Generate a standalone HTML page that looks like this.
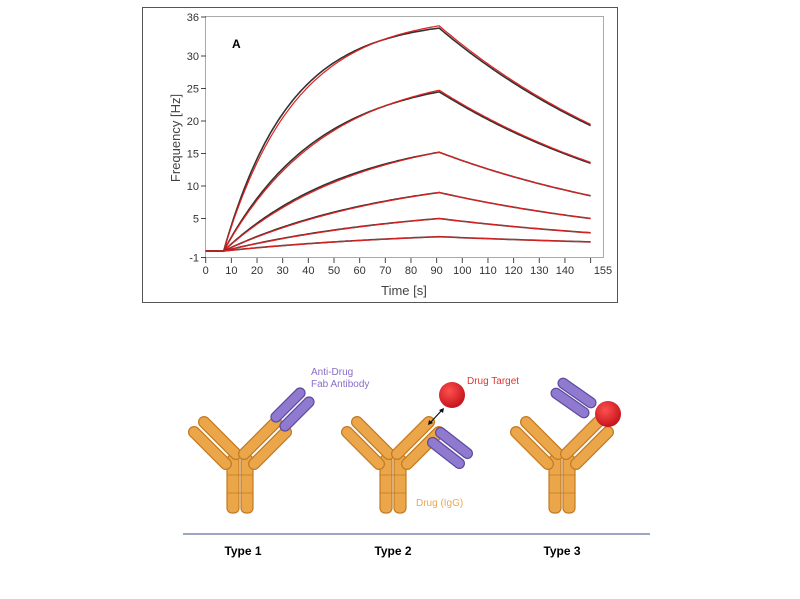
<!DOCTYPE html>
<html><head><meta charset="utf-8"><style>
html,body{margin:0;padding:0;background:#fff;width:800px;height:599px;overflow:hidden}
</style></head><body>
<svg width="800" height="599" viewBox="0 0 800 599" xmlns="http://www.w3.org/2000/svg" font-family="Liberation Sans, sans-serif">
<defs>
<radialGradient id="rg" cx="0.4" cy="0.35" r="0.7"><stop offset="0" stop-color="#ff5050"/><stop offset="1" stop-color="#c01018"/></radialGradient>
<g id="arm"><rect x="-28" y="-5.5" width="56" height="11" rx="5.5" fill="#eba64a" stroke="#c27a22" stroke-width="1.2"/></g>
<g id="fab"><rect x="-22" y="-5" width="44" height="10" rx="5" fill="#8f7ad0" stroke="#5d4aa0" stroke-width="1.2"/></g>
<g id="ab">
 <rect x="-13" y="0" width="12" height="58" rx="5" fill="#eba64a" stroke="#c27a22" stroke-width="1.2"/>
 <rect x="1" y="0" width="12" height="58" rx="5" fill="#eba64a" stroke="#c27a22" stroke-width="1.2"/>
 <line x1="-13" y1="20" x2="13" y2="20" stroke="#c27a22" stroke-width="0.8"/>
 <line x1="-13" y1="38" x2="13" y2="38" stroke="#c27a22" stroke-width="0.8"/>
 <use href="#arm" transform="translate(-20,-17) rotate(45)"/>
 <use href="#arm" transform="translate(-30,-7) rotate(45)"/>
 <use href="#arm" transform="translate(20,-17) rotate(-45)"/>
 <use href="#arm" transform="translate(30,-7) rotate(-45)"/>
</g>
</defs>
<rect x="142.5" y="7.5" width="475" height="295" fill="#fff" stroke="#555" stroke-width="1"/>
<rect x="205.5" y="16.5" width="398" height="241" fill="none" stroke="#aaa" stroke-width="1"/>
<g id="ticks" font-size="11" fill="#333"></g>
<text x="232" y="48" font-size="12" font-weight="bold">A</text>
<text x="404" y="295" font-size="13" fill="#444" text-anchor="middle">Time [s]</text>
<text transform="translate(180,138) rotate(-90)" font-size="13" fill="#444" text-anchor="middle">Frequency [Hz]</text>
<g id="curves" fill="none"></g>

<use href="#ab" transform="translate(240,455)"/>
<use href="#ab" transform="translate(393,455)"/>
<use href="#ab" transform="translate(562,455)"/>
<use href="#fab" transform="translate(288,405) rotate(-45)"/>
<use href="#fab" transform="translate(297,414) rotate(-45)"/>
<use href="#fab" transform="translate(454,443) rotate(38)"/>
<use href="#fab" transform="translate(446,453) rotate(38)"/>
<use href="#fab" transform="translate(577,393) rotate(35)"/>
<use href="#fab" transform="translate(570,403) rotate(35)"/>
<circle cx="452" cy="395" r="13" fill="url(#rg)"/>
<circle cx="608" cy="414" r="13" fill="url(#rg)"/>
<line x1="430" y1="423" x2="442" y2="410" stroke="#111" stroke-width="1.2"/>
<path d="M428,425 l1,-5 l4,3 z M444,408 l-1,5 l-4,-3 z" fill="#111"/>
<text x="311" y="375" font-size="10" fill="#8a6cc8">Anti-Drug</text>
<text x="311" y="387" font-size="10" fill="#8a6cc8">Fab Antibody</text>
<text x="467" y="384" font-size="10" fill="#d83838">Drug Target</text>
<text x="416" y="506" font-size="10" fill="#e8a850">Drug (IgG)</text>
<line x1="183" y1="534" x2="650" y2="534" stroke="#6070a0" stroke-width="1.2"/>
<text x="243" y="555" font-size="12" font-weight="bold" text-anchor="middle">Type 1</text>
<text x="393" y="555" font-size="12" font-weight="bold" text-anchor="middle">Type 2</text>
<text x="562" y="555" font-size="12" font-weight="bold" text-anchor="middle">Type 3</text>
</svg>
<script>
var NS="http://www.w3.org/2000/svg";
function X(t){return 205.7+2.566*t}
function Y(v){return 56+(30-v)*6.5}
var tk=document.getElementById("ticks");
function el(n,a,p,txt){var e=document.createElementNS(NS,n);for(var k in a)e.setAttribute(k,a[k]);if(txt!==undefined)e.textContent=String(txt);p.appendChild(e);return e}
[-1,5,10,15,20,25,30,36].forEach(function(v){var y=Y(v);el("line",{x1:201,x2:206,y1:y,y2:y,stroke:"#444"},tk);el("text",{x:199,y:y+4,"text-anchor":"end"},tk,v)});
for(var t=0;t<=150;t+=10){var x=X(t);el("line",{x1:x,x2:x,y1:258,y2:263,stroke:"#444"},tk);if(t<150)el("text",{x:x,y:274,"text-anchor":"middle"},tk,t)}
el("text",{x:603,y:274,"text-anchor":"middle"},tk,"155");
var cv=document.getElementById("curves");
var S=[[34.3,19.3,0.039],[24.5,13.5,0.027],[15.2,8.5,0.02],[9,5,0.015],[5,2.8,0.013],[2.2,1.4,0.012]];
S.forEach(function(s,i){[["#333",0],["#e02020",1]].forEach(function(c){
 var P=s[0]*(c[1]&&i<2?1.01:1),E=s[1],ks=s[2]*(c[1]?0.92:1),kd=Math.log(s[0]/E)/59;
 var d="M"+X(0)+","+Y(0);
 for(var t=7;t<=150;t+=1){var v;
  if(t<=91)v=P*(1-Math.exp(-ks*(t-7)))/(1-Math.exp(-ks*84));
  else v=P*Math.exp(-kd*(t-91));
  d+=" L"+X(t).toFixed(1)+","+Y(v).toFixed(1)}
 el("path",{d:d,stroke:c[0],"stroke-width":c[1]?1.2:1.6},cv)})});
</script>
</body></html>
